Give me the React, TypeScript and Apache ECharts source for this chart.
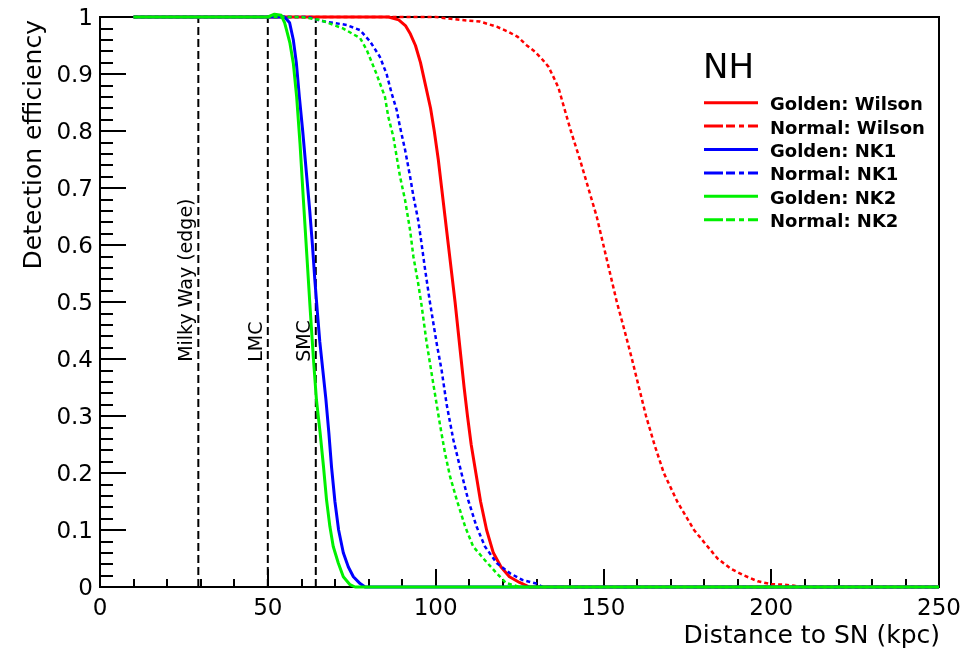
import React, { useEffect, useRef } from "react";
import * as echarts from "echarts";

// ---- Data ----
const seriesNames = ["Golden: Wilson", "Normal: Wilson", "Golden: NK1", "Normal: NK1", "Golden: NK2", "Normal: NK2"];
const seriesColors = ["#ff0000", "#ff0000", "#0000ff", "#0000ff", "#00f000", "#00f000"];
const seriesDashed = [false, true, false, true, false, true];

const goldenWilsonX = [10, 86, 89, 91, 92.5, 94, 95.5, 97, 98.5, 99.6, 100.8, 101.8, 102.8, 103.8, 104.8, 105.8, 106.7, 107.6, 108.5, 109.5, 110.6, 112, 113.4, 115.2, 117.2, 119.5, 122, 125, 128, 250];
const goldenWilsonY = [1, 1, 0.995, 0.985, 0.97, 0.95, 0.92, 0.88, 0.84, 0.8, 0.75, 0.7, 0.65, 0.6, 0.55, 0.5, 0.45, 0.4, 0.35, 0.3, 0.25, 0.2, 0.15, 0.1, 0.06, 0.035, 0.018, 0.008, 0, 0];

const normalWilsonX = [10, 100, 107.3, 113.2, 118.2, 121.7, 124.5, 127, 129.6, 131.6, 133.6, 135.1, 136.6, 138.1, 140.3, 143, 145.5, 148, 150, 152, 154, 156.3, 158.5, 160.6, 162.7, 165.2, 168, 172, 177, 180.5, 184, 188, 192, 196, 200, 204, 207, 209, 250];
const normalWilsonY = [1, 1, 0.995, 0.992, 0.983, 0.974, 0.965, 0.951, 0.939, 0.927, 0.913, 0.895, 0.876, 0.845, 0.8, 0.75, 0.7, 0.65, 0.6, 0.55, 0.5, 0.45, 0.4, 0.35, 0.3, 0.25, 0.2, 0.15, 0.1, 0.075, 0.05, 0.032, 0.02, 0.01, 0.005, 0.004, 0.002, 0, 0];

const goldenNK1X = [10, 55, 56.5, 57.6, 58.5, 59.4, 60.4, 61.6, 62.5, 63.3, 64, 64.8, 65.5, 66.4, 67.3, 68.2, 69, 70, 71.1, 72.5, 74, 75.5, 77.5, 79, 250];
const goldenNK1Y = [1, 1, 0.99, 0.96, 0.92, 0.86, 0.8, 0.72, 0.66, 0.6, 0.54, 0.48, 0.43, 0.38, 0.33, 0.27, 0.21, 0.15, 0.1, 0.06, 0.035, 0.018, 0.006, 0, 0];

const normalNK1X = [10, 62, 66, 73.5, 77.5, 80.5, 83.4, 85.4, 86.9, 88.4, 89.4, 90.9, 92.4, 93.4, 94.8, 95.8, 96.8, 98.3, 100.3, 101.8, 103.3, 105.3, 107.7, 109.7, 112.2, 114.7, 118.2, 122.2, 126, 130, 132, 250];
const normalNK1Y = [1, 1, 0.993, 0.986, 0.977, 0.957, 0.93, 0.9, 0.866, 0.837, 0.807, 0.767, 0.72, 0.685, 0.644, 0.603, 0.56, 0.5, 0.428, 0.38, 0.32, 0.258, 0.2, 0.153, 0.106, 0.071, 0.042, 0.024, 0.012, 0.006, 0, 0];

const goldenNK2X = [10, 50, 52, 54, 55, 55.6, 56.6, 57.6, 58.6, 59.6, 60.6, 61.6, 62.6, 63.6, 64.5, 65.6, 66.6, 67.5, 68.5, 69.5, 71, 72.5, 74.5, 76, 250];
const goldenNK2Y = [1, 1, 1.005, 1.003, 0.99, 0.977, 0.954, 0.919, 0.86, 0.778, 0.68, 0.585, 0.49, 0.4, 0.328, 0.27, 0.211, 0.153, 0.106, 0.071, 0.042, 0.018, 0.004, 0, 0];

const normalNK2X = [10, 60, 65.5, 72.4, 77.5, 79.5, 82.4, 84.9, 85.9, 87.4, 88.4, 89.4, 90.9, 92.4, 93.4, 94.8, 95.8, 97.3, 99.3, 101.3, 102.8, 104.3, 106.3, 108.8, 111.2, 114.7, 118.2, 121, 125, 250];
const normalNK2Y = [1, 1, 0.995, 0.98, 0.963, 0.942, 0.9, 0.86, 0.825, 0.79, 0.755, 0.72, 0.679, 0.626, 0.579, 0.533, 0.495, 0.43, 0.357, 0.285, 0.235, 0.194, 0.153, 0.106, 0.071, 0.047, 0.024, 0.007, 0, 0];

const curveX = [goldenWilsonX, normalWilsonX, goldenNK1X, normalNK1X, goldenNK2X, normalNK2X];
const curveY = [goldenWilsonY, normalWilsonY, goldenNK1Y, normalNK1Y, goldenNK2Y, normalNK2Y];

const markerNames = ["Milky Way (edge)", "LMC", "SMC"];
const markerX = [29.3, 50, 64.3];

const legendTitle = "NH";
const xTitle = "Distance to SN (kpc)";
const yTitle = "Detection efficiency";

const FONT = "DejaVu Sans";

export default function App() {
  const ref = useRef<HTMLDivElement>(null);

  useEffect(() => {
    document.body.style.margin = "0";
    const chart = echarts.init(ref.current!, null, { renderer: "svg" });

    const curveSeries = curveX.map((xs, i) => ({
      name: seriesNames[i],
      type: "line",
      data: xs.map((x, j) => [x, curveY[i][j]]),
      symbol: "none",
      showSymbol: false,
      clip: false,
      silent: true,
      z: 3 + i,
      lineStyle: {
        color: seriesColors[i],
        width: seriesDashed[i] ? 2.5 : 3,
        type: seriesDashed[i] ? [4, 3] : "solid",
        join: "round",
      },
    }));

    const markerSeries = markerX.map((x, i) => ({
      name: markerNames[i],
      type: "line",
      data: [
        [x, 0],
        [x, 1],
      ],
      symbol: "none",
      silent: true,
      z: 2,
      lineStyle: { color: "#000", width: 2, type: [8, 4] },
    }));

    const tickStyle = { color: "#000", width: 2 };

    chart.setOption({
      animation: false,
      grid: {
        left: 100,
        top: 17,
        right: 28,
        bottom: 62,
        show: true,
        borderColor: "#000",
        borderWidth: 2,
        backgroundColor: "transparent",
      },
      xAxis: {
        type: "value",
        min: 0,
        max: 250,
        interval: 50,
        axisLine: { onZero: false, lineStyle: tickStyle },
        axisTick: { inside: true, length: 18, lineStyle: tickStyle },
        minorTick: { show: true, splitNumber: 5, length: 8, lineStyle: tickStyle },
        splitLine: { show: false },
        axisLabel: { color: "#000", fontFamily: FONT, fontSize: 23, margin: 8 },
      },
      yAxis: {
        type: "value",
        min: 0,
        max: 1,
        interval: 0.1,
        axisLine: { onZero: false, lineStyle: tickStyle },
        axisTick: { inside: true, length: 26, lineStyle: tickStyle },
        minorTick: { show: true, splitNumber: 5, length: 13, lineStyle: tickStyle },
        splitLine: { show: false },
        axisLabel: { color: "#000", fontFamily: FONT, fontSize: 23, margin: 7 },
      },
      series: [...markerSeries, ...curveSeries],
    });

    const graphics: any[] = [];
    markerX.forEach((x, i) => {
      const p = chart.convertToPixel({ gridIndex: 0 }, [x, 0.395]) as number[];
      graphics.push({
        type: "text",
        x: p[0] - 13,
        y: p[1],
        rotation: Math.PI / 2,
        style: {
          text: markerNames[i],
          fontFamily: FONT,
          fontSize: 19,
          fill: "#000",
          align: "left",
          verticalAlign: "middle",
        },
      });
    });
    graphics.push({
      type: "text",
      x: 32,
      y: 20,
      rotation: Math.PI / 2,
      style: { text: yTitle, fontFamily: FONT, fontSize: 25, fill: "#000", align: "right", verticalAlign: "middle" },
    });
    graphics.push({
      type: "text",
      x: 940,
      y: 634,
      style: { text: xTitle, fontFamily: FONT, fontSize: 25, fill: "#000", align: "right", verticalAlign: "middle" },
    });
    graphics.push({
      type: "text",
      x: 703,
      y: 66,
      style: { text: legendTitle, fontFamily: FONT, fontSize: 34, fill: "#000", align: "left", verticalAlign: "middle" },
    });
    seriesNames.forEach((name, i) => {
      const y = 102.7 + 23.4 * i;
      graphics.push({
        type: "line",
        shape: { x1: 704, y1: y, x2: 758, y2: y },
        style: {
          stroke: seriesColors[i],
          lineWidth: 3,
          lineDash: seriesDashed[i] ? [19, 3, 9, 4, 5, 4, 10, 10] : null,
        },
      });
      graphics.push({
        type: "text",
        x: 770,
        y: y + 1,
        style: { text: name, fontFamily: FONT, fontSize: 18, fontWeight: "bold", fill: "#000", align: "left", verticalAlign: "middle" },
      });
    });

    chart.setOption({ graphic: graphics });

    return () => chart.dispose();
  }, []);

  return <div ref={ref} style={{ position: "fixed", left: 0, top: 0, width: 967, height: 649 }} />;
}
